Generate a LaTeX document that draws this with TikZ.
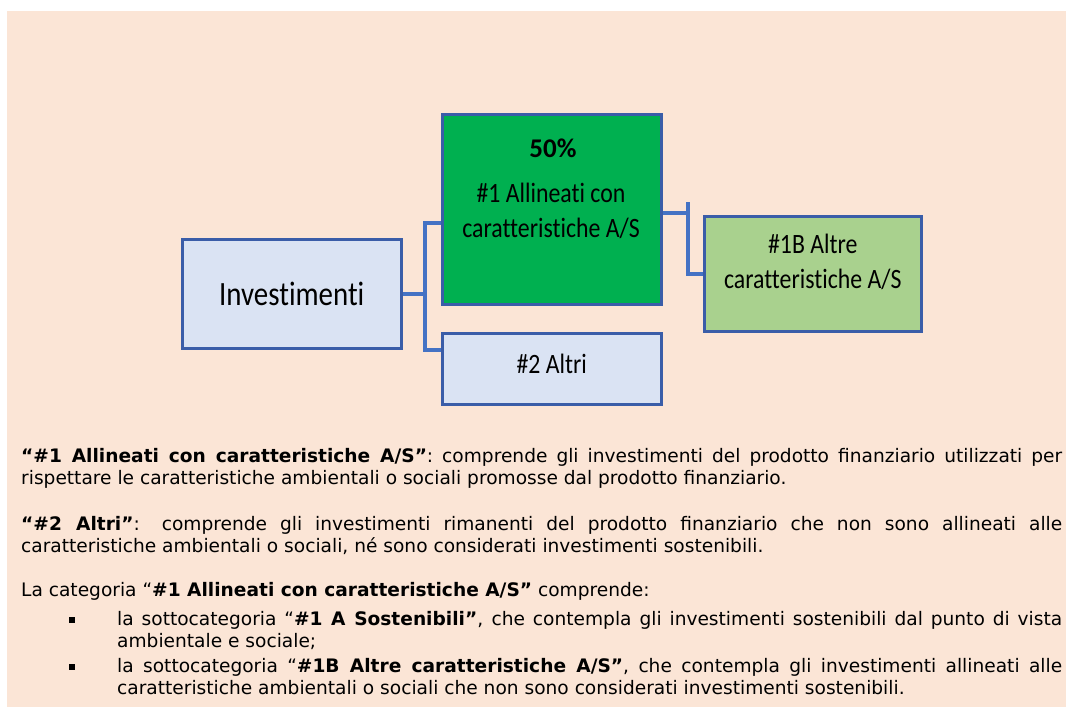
\documentclass[tikz,border=0pt]{standalone}
\usepackage{fontspec}
\setmainfont{DejaVu Sans}
\newfontfamily\boxfont[FakeStretch=0.85, Ligatures=NoCommon]{Carlito}
\newfontfamily\pctfont[Ligatures=NoCommon]{Carlito}
\usetikzlibrary{calc}
\definecolor{peach}{HTML}{FBE5D6}
\definecolor{boxblue}{HTML}{3A5DA8}
\definecolor{linkblue}{HTML}{4472C4}
\definecolor{paleblue}{HTML}{DAE3F3}
\definecolor{allgreen}{HTML}{00B050}
\definecolor{lightgreen}{HTML}{A9D18E}
\hyphenpenalty=10000\relax
\exhyphenpenalty=10000\relax

\begin{document}
\begin{tikzpicture}[
    x=1pt,
    y=-1pt,
    catbox/.style={
      draw=boxblue,
      line width=2.5pt,
      rectangle,
      inner sep=0,
      anchor=north west,
      align=center,
      font=\boxfont\fontsize{28}{35}\selectfont
    },
    link/.style={draw=linkblue, line width=4pt},
    para/.style={anchor=base west, inner sep=0, text width=1041pt, align=justify,
      font=\fontsize{18.6}{22}\selectfont},
    itemtext/.style={para, text width=945pt},
    bullet/.style={fill=black, rectangle, inner sep=0, minimum size=5.5pt}]
   \useasboundingbox (0,0) rectangle (1066,707);
   \fill[peach] (7,11) rectangle (1066,707);

   \path
     node(invest) at (181,238) [catbox, fill=paleblue, minimum width=219, minimum height=109,
       font=\boxfont\fontsize{34}{40}\selectfont] {Investimenti}
     node(allin)  at (441,113) [catbox, fill=allgreen, minimum width=219, minimum height=190] {}
     node(altri)  at (441,332) [catbox, fill=paleblue, minimum width=219, minimum height=71,
       text depth=10pt] {\#2 Altri}
     node(altre)  at (703,215) [catbox, fill=lightgreen, minimum width=217, minimum height=115,
       text depth=24pt] {\#1B Altre\\caratteristiche A/S};

   \node(pct) at (553,157) [anchor=base, font=\pctfont\bfseries\fontsize{27}{30}\selectfont] {50\%};
   \node(allintxt) at (551,237) [anchor=base, align=center, inner sep=0,
     font=\boxfont\fontsize{28}{35}\selectfont] {\#1 Allineati con\\caratteristiche A/S};

   % rami
   \coordinate (split) at ($(invest.east)+(22,0)$);
   \coordinate (fork) at (688,202);
   \coordinate (allout) at ($(allin.north east)!.52!(allin.south east)$);
   \draw[link] (invest.east) -- (split);
   \draw[link] ($(allin.north west)!.57!(allin.south west)$) -| (split)
     |- ($(altri.north west)!.25!(altri.south west)$);
   \begin{scope}[line width=3.5pt]
     \draw[link] (allout) -- (allout -| fork);
     \draw[link] (fork) |- (altre.west);
   \end{scope}

   % testo
   \node(p1) at (21,462) [para] {\textbf{“\#1 Allineati con caratteristiche A/S”}: comprende gli investimenti del prodotto finanziario utilizzati per\linebreak rispettare le caratteristiche ambientali o sociali promosse dal prodotto finanziario.};
   \node(p2) at (21,530) [para] {\textbf{“\#2 Altri”}: comprende gli investimenti rimanenti del prodotto finanziario che non sono allineati alle\linebreak caratteristiche ambientali o sociali, né sono considerati investimenti sostenibili.};
   \node(p3) at (21,596) [para] {La categoria “\textbf{\#1 Allineati con caratteristiche A/S”} comprende:};
   \node(b1) at (72,620) [bullet] {};
   \node(i1) at (117,625) [itemtext] {la sottocategoria “\textbf{\#1 A Sostenibili”}, che contempla gli investimenti sostenibili dal punto di vista\linebreak ambientale e sociale;};
   \node(b2) at (72,667) [bullet] {};
   \node(i2) at (117,672) [itemtext] {la sottocategoria “\textbf{\#1B Altre caratteristiche A/S”}, che contempla gli investimenti allineati alle\linebreak caratteristiche ambientali o sociali che non sono considerati investimenti sostenibili.};
\end{tikzpicture}
\end{document}
